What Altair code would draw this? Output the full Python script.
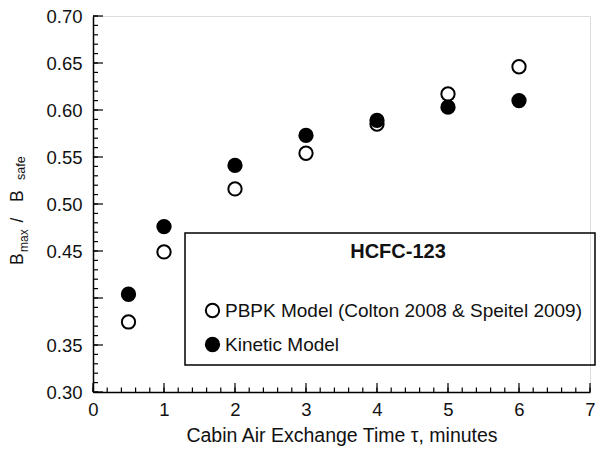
import altair as alt
import pandas as pd

# ---- data ----
tau = [0.5, 1, 2, 3, 4, 5, 6]
pbpk = [0.3745, 0.449, 0.516, 0.554, 0.585, 0.617, 0.646]
kinetic = [0.404, 0.476, 0.541, 0.573, 0.589, 0.603, 0.610]
series_names = ["PBPK Model (Colton 2008 & Speitel 2009)", "Kinetic Model"]

y_label_values = [0.30, 0.35, 0.45, 0.50, 0.55, 0.60, 0.65, 0.70]
y_major = [0.30, 0.35, 0.40, 0.45, 0.50, 0.55, 0.60, 0.65, 0.70]
y_minor = [round(0.30 + 0.01 * i, 2) for i in range(41)]
x_major = [0, 1, 2, 3, 4, 5, 6, 7]
x_minor = [round(0.2 * i, 1) for i in range(36)]

FONT = "Liberation Sans"
W, H = 497, 376

rows = []
for t, p in zip(tau, pbpk):
    rows.append({"tau": t, "B": p, "series": series_names[0]})
for t, k in zip(tau, kinetic):
    rows.append({"tau": t, "B": k, "series": series_names[1]})
df = pd.DataFrame(rows)

xscale = alt.Scale(domain=[0, 7], nice=False, zero=False)
yscale = alt.Scale(domain=[0.30, 0.70], nice=False, zero=False)

xaxis = alt.Axis(values=x_major, format="d", title="Cabin Air Exchange Time τ, minutes",
                 ticks=False, tickSize=0, grid=False, domainColor="black", domainWidth=1.5,
                 labelFlush=False, labelOverlap=False,
                 labelFont=FONT, labelFontSize=18.5, labelColor="#111", labelPadding=8,
                 titleFont=FONT, titleFontSize=19.5, titleFontWeight="normal",
                 titleColor="#111", titlePadding=8)
yaxis = alt.Axis(values=y_label_values, format=".2f", title=None,
                 ticks=False, tickSize=0, grid=False, domainColor="black", domainWidth=1.5,
                 labelFlush=False, labelOverlap=False,
                 labelFont=FONT, labelFontSize=18.5, labelColor="#111", labelPadding=11)

points = alt.Chart(df).mark_point(
    filled=True, shape="circle", size=177, stroke="black", strokeWidth=2, opacity=1
).encode(
    x=alt.X("tau:Q", scale=xscale, axis=xaxis),
    y=alt.Y("B:Q", scale=yscale, axis=yaxis),
    fill=alt.Fill("series:N",
                  scale=alt.Scale(domain=series_names, range=["white", "black"]),
                  legend=alt.Legend(orient="none", legendX=110, legendY=285, title=None,
                                    labelFont=FONT, labelFontSize=19, labelColor="#111",
                                    labelLimit=420, labelOffset=3, symbolSize=177,
                                    symbolType="circle", symbolStrokeColor="black",
                                    symbolStrokeWidth=2, rowPadding=11, padding=0)),
)

def tick_layer(vals, axis_ch, length):
    d = pd.DataFrame({"tau": vals, "B": vals})
    base = alt.Chart(d).mark_rule(color="black", strokeWidth=1.2)
    if axis_ch == "y":
        return base.encode(y=alt.Y("B:Q", scale=yscale, axis=yaxis),
                           x=alt.value(0), x2=alt.value(length))
    return base.encode(x=alt.X("tau:Q", scale=xscale, axis=xaxis),
                       y=alt.value(H), y2=alt.value(H - length))

ticks = [tick_layer(y_minor, "y", 5), tick_layer(y_major, "y", 10),
         tick_layer(x_minor, "x", 4.5), tick_layer(x_major, "x", 9)]

one = alt.Data(values=[{"k": 1}])

legend_box = alt.Chart(one).mark_rect(fill="white", fillOpacity=0, stroke="black", strokeWidth=1.5).encode(
    x=alt.value(92), x2=alt.value(502), y=alt.value(217), y2=alt.value(349))

legend_title = alt.Chart(one).mark_text(font=FONT, fontSize=20, fontWeight="bold", color="#111",
                                        align="center", baseline="middle").encode(
    x=alt.value(305), y=alt.value(236), text=alt.value("HCFC-123"))

def ytitle_piece(txt, x, y, size):
    return alt.Chart(one).mark_text(font=FONT, fontSize=size, color="#111", angle=270,
                                    align="left", baseline="alphabetic").encode(
        x=alt.value(x), y=alt.value(y), text=alt.value(txt))

ytitle = [ytitle_piece("B", -70, 249, 17.5), ytitle_piece("max", -65, 236, 12),
          ytitle_piece("/", -70, 206.5, 17.5), ytitle_piece("B", -70, 186, 17.5),
          ytitle_piece("safe", -68, 164, 12.5)]

chart = alt.layer(points, *ticks, legend_box, legend_title, *ytitle).properties(
    width=W, height=H,
    autosize=alt.AutoSizeParams(type="none"),
    padding={"left": 93, "top": 16, "right": 10, "bottom": 59},
).configure_view(stroke=None).configure(background="white")

chart.save("out.html", embed_options={"renderer": "svg", "actions": False})
